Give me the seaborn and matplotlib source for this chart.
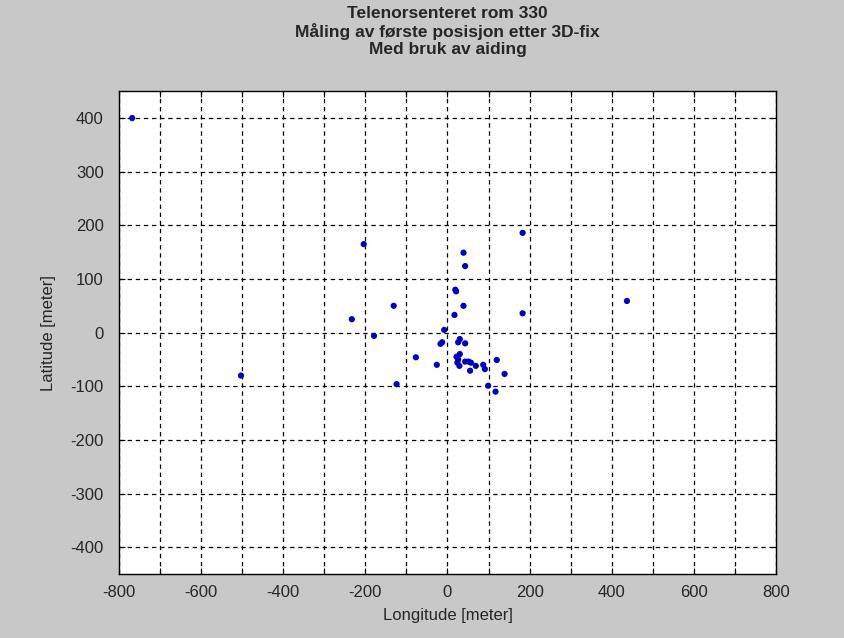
import matplotlib
matplotlib.use("Agg")
import matplotlib.pyplot as plt
import numpy as np
import pandas as pd
import seaborn as sns

# Position fixes (meters east / north of the reference point)
longitude = [-768, -503, -204, -233, -179, -131, -124, 183, 183, 437,
             39, 43, 21, 19, 39, 17, -8, -13, -17, 30,
             26, 43, -77, -26, 30, 22, 26, 24, 29, 43,
             51, 57, 69, 55, 87, 91, 120, 139, 99, 117]
latitude = [400, -80, 165, 25, -6, 50, -96, 186, 36, 59,
            149, 124, 77, 80, 50, 33, 5, -18, -21, -12,
            -18, -20, -46, -60, -40, -45, -50, -56, -62, -54,
            -54, -56, -62, -71, -60, -68, -51, -77, -99, -110]

x_ticks = list(range(-800, 801, 100))
x_labels = [str(v) if v % 200 == 0 else "" for v in x_ticks]
y_ticks = list(range(-400, 401, 100))

df = pd.DataFrame({"lon": longitude, "lat": latitude})

sns.set_style("white")
plt.rcParams["font.family"] = ["Liberation Sans", "DejaVu Sans"]

fig = plt.figure(figsize=(8.44, 6.38), dpi=100, facecolor="#c8c8c8")
ax = fig.add_axes([0.141, 0.1003, 0.7784, 0.7567])
ax.set_facecolor("white")

sns.scatterplot(data=df, x="lon", y="lat", ax=ax, color="#0000c0",
                s=20, edgecolor="none", linewidth=0, zorder=3)

ax.set_xlim(-800, 800)
ax.set_ylim(-450, 450)
ax.set_xticks(x_ticks)
ax.set_xticklabels(x_labels, fontsize=12)
ax.set_yticks(y_ticks)
ax.set_yticklabels([str(v) for v in y_ticks], fontsize=12)
ax.tick_params(axis="y", pad=11)
ax.tick_params(axis="x", pad=8)
ax.tick_params(direction="in", length=4, width=0.8, color="black",
               top=True, right=True, bottom=True, left=True)

ax.grid(True, color="black", linestyle=(0, (3.5, 3)), linewidth=0.9, zorder=1)
for sp in ax.spines.values():
    sp.set_color("black")
    sp.set_linewidth(1.0)

ax.set_xlabel("Longitude [meter]", fontsize=12, labelpad=6)
ax.set_ylabel("Latitude [meter]", fontsize=12, labelpad=10)
ax.set_title("Telenorsenteret rom 330\nMåling av første posisjon etter 3D-fix\nMed bruk av aiding",
             fontsize=12.5, fontweight="bold", linespacing=1.15, pad=27)

fig.savefig("out.png", dpi=100, facecolor=fig.get_facecolor())
